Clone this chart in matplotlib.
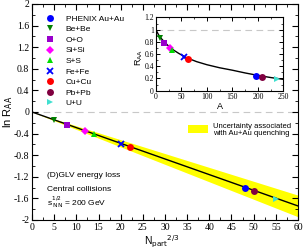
import matplotlib
matplotlib.use("Agg")
import matplotlib.pyplot as plt
from matplotlib.ticker import MultipleLocator
from matplotlib.patches import Rectangle

# ---- data ----
systems = ["PHENIX Au+Au", "Be+Be", "O+O", "Si+Si", "S+S", "Fe+Fe", "Cu+Cu", "Pb+Pb", "U+U"]
npart23 = [48, 5, 8, 12, 14, 20, 22, 50, 55]
ln_raa = [-1.41, -0.15, -0.24, -0.35, -0.41, -0.59, -0.64, -1.46, -1.62]
mass_A = [197, 9, 16, 28, 32, 56, 63, 208, 238]
raa = [0.245, 0.86, 0.785, 0.70, 0.665, 0.555, 0.525, 0.23, 0.195]
markers = ["o", "v", "s", "D", "^", "x", "o", "o", ">"]
colors = ["#0000ff", "#008000", "#9900cc", "#ff00ff", "#00dd00", "#0000ff", "#ff0000", "#800040", "#40e0d0"]
msizes = [5, 4.5, 4.5, 4, 4.5, 4.5, 5, 5, 4.5]

fit_x = [0, 60]
fit_y = [0, -1.74]
band_hi = [0, -1.54]
band_lo = [0, -1.94]

curve_A = [0, 5, 10, 20, 30, 45, 60, 80, 100, 125, 150, 175, 200, 225, 250]
curve_R = [1.0, 0.92, 0.86, 0.77, 0.69, 0.61, 0.54, 0.475, 0.425, 0.375, 0.335, 0.29, 0.25, 0.215, 0.185]

serif = "Liberation Serif"
sans = "Liberation Sans"

fig = plt.figure(figsize=(3.05, 2.49), dpi=100)
ax = fig.add_axes([0.105, 0.1165, 0.872, 0.8675])

ax.fill_between(fit_x, band_lo, band_hi, color="#ffff00", lw=0, zorder=1)
ax.plot(fit_x, fit_y, color="black", lw=1.0, zorder=2)
ax.axhline(0, color="#c8c8c8", lw=0.8, ls=(0, (6, 4)), zorder=0)

handles = []
for s, x, y, m, c, ms in zip(systems, npart23, ln_raa, markers, colors, msizes):
    mew = 1.3 if m == "x" else 0
    h, = ax.plot(x, y, marker=m, color=c, ms=ms, mew=mew, ls="none", zorder=3, label=s)
    handles.append(h)

ax.set_xlim(0, 60)
ax.set_ylim(-2, 2)
ax.xaxis.set_major_locator(MultipleLocator(5))
ax.xaxis.set_minor_locator(MultipleLocator(2.5))
ax.yaxis.set_major_locator(MultipleLocator(0.4))
ax.yaxis.set_minor_locator(MultipleLocator(0.2))
ax.tick_params(which="both", direction="in", top=True, right=True, labelsize=7, pad=2)
ax.tick_params(which="major", length=4, width=0.8)
ax.tick_params(which="minor", length=2, width=0.6)
ax.set_xticks([0, 5, 10, 15, 20, 25, 30, 35, 40, 45, 50, 55, 60])
ax.set_xticklabels([str(v) for v in [0, 5, 10, 15, 20, 25, 30, 35, 40, 45, 50, 55, 60]], fontfamily=serif)
ax.set_yticks([-2, -1.6, -1.2, -0.8, -0.4, 0, 0.4, 0.8, 1.2, 1.6, 2])
ax.set_yticklabels(["-2", "-1.6", "-1.2", "-0.8", "-0.4", "0", "0.4", "0.8", "1.2", "1.6", "2"], fontfamily=serif)

leg = ax.legend(handles=handles, loc="upper left", bbox_to_anchor=(0.035, 0.965), frameon=False,
                prop={"family": sans, "size": 6}, handlelength=1.2, handletextpad=1.3,
                labelspacing=0.33, borderaxespad=0)

# uncertainty band key
ax.add_patch(Rectangle((0.586, 0.403), 0.076, 0.037, transform=ax.transAxes,
                       facecolor="#ffff00", edgecolor="none", zorder=4))
ax.text(0.68, 0.418, "Uncertainty associated\nwith Au+Au quenching", transform=ax.transAxes,
        fontsize=5.5, family=sans, va="center", ha="left", linespacing=1.0)

fig.text(0.155, 0.297, "(D)GLV energy loss", fontsize=6, family=sans, va="center")
fig.text(0.155, 0.24, "Central collisions", fontsize=6, family=sans, va="center")
fig.text(0.155, 0.187, r"s$^{1/2}_{\;\mathrm{NN}}$ = 200 GeV", fontsize=6, family=sans, va="center")

fig.text(0.027, 0.55, r"ln R$_{\mathrm{AA}}$", rotation=90, fontsize=8, family=sans, va="center", ha="center")
fig.text(0.53, 0.028, r"N$_{\mathrm{part}}$$^{2/3}$", fontsize=7.5, family=sans, va="center", ha="center")

# ---- inset ----
ins = fig.add_axes([0.511, 0.636, 0.418, 0.294])
ins.axhline(1.0, color="#c8c8c8", lw=0.8, ls=(0, (6, 4)), zorder=0)
ins.plot(curve_A, curve_R, color="black", lw=1.0, zorder=2)
for x, y, m, c, ms in zip(mass_A, raa, markers, colors, msizes):
    mew = 1.3 if m == "x" else 0
    ins.plot(x, y, marker=m, color=c, ms=ms, mew=mew, ls="none", zorder=3)
ins.set_xlim(0, 250)
ins.set_ylim(0, 1.2)
ins.xaxis.set_major_locator(MultipleLocator(50))
ins.xaxis.set_minor_locator(MultipleLocator(25))
ins.yaxis.set_major_locator(MultipleLocator(0.2))
ins.yaxis.set_minor_locator(MultipleLocator(0.1))
ins.tick_params(which="both", direction="in", top=True, right=True, labelsize=5.5, pad=1.5)
ins.tick_params(which="major", length=3, width=0.7)
ins.tick_params(which="minor", length=1.5, width=0.5)
ins.set_yticks([0, 0.2, 0.4, 0.6, 0.8, 1, 1.2])
ins.set_yticklabels(["0", "0.2", "0.4", "0.6", "0.8", "1", "1.2"], fontfamily=serif)
ins.set_xticks([0, 50, 100, 150, 200, 250])
ins.set_xticklabels(["0", "50", "100", "150", "200", "250"], fontfamily=serif)
ins.set_xlabel("A", fontsize=6.5, family=sans, labelpad=1)
fig.text(0.456, 0.771, r"R$_{\mathrm{AA}}$", rotation=90, fontsize=6.5, family=sans, va="center", ha="center")

fig.savefig("out.png", dpi=100)
